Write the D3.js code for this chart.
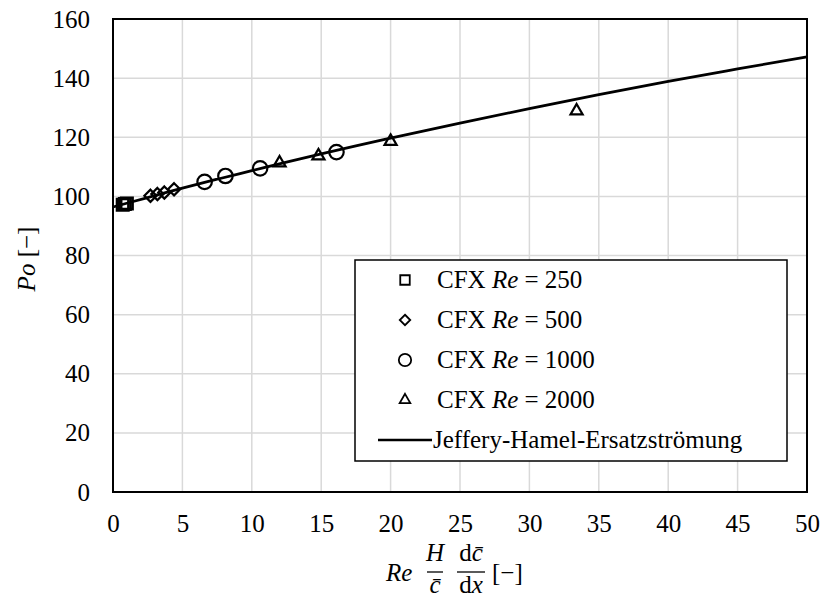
<!DOCTYPE html>
<html>
<head>
<meta charset="utf-8">
<script src="https://cdn.jsdelivr.net/npm/d3@7"></script>
<style>
  html, body { margin: 0; padding: 0; background: #fff; }
  svg { display: block; }
  text { font-family: 'Liberation Serif', 'Times New Roman', Times, 'DejaVu Serif', serif; fill: #000; }
</style>
</head>
<body>
<svg id="chart" width="823" height="601"></svg>
<script>
// CFX results (x = Re·H/c̄·dc̄/dx, y = Po)
const re250X = [0.7, 0.85, 1.0];
const re250Y = [97.2, 97.4, 97.6];
const re500X = [2.7, 3.2, 3.7, 4.4];
const re500Y = [100.2, 100.8, 101.3, 102.4];
const re1000X = [6.6, 8.1, 10.6, 16.1];
const re1000Y = [104.9, 106.9, 109.5, 115.0];
const re2000X = [12.0, 14.8, 20.0, 33.4];
const re2000Y = [111.3, 113.7, 118.6, 128.9];

// Jeffery-Hamel substitute flow
const jhX = [0, 2.5, 5, 7.5, 10, 12.5, 15, 17.5, 20, 25, 30, 35, 40, 45, 50];
const jhY = [96.4, 99.6, 102.8, 105.8, 108.7, 111.6, 114.4, 117.1, 119.7, 124.8, 129.7, 134.4, 138.9, 143.1, 147.2];

const xTicks = [0, 5, 10, 15, 20, 25, 30, 35, 40, 45, 50];
const yTicks = [0, 20, 40, 60, 80, 100, 120, 140, 160];

const legendLabels = ["250", "500", "1000", "2000"];
const lineLabel = "Jeffery-Hamel-Ersatzströmung";

const FONT = "'Liberation Serif', 'Times New Roman', Times, 'DejaVu Serif', serif";
const svg = d3.select("#chart").attr("font-family", FONT);
const L = 113, R = 807, T = 19, B = 492;
const x = d3.scaleLinear().domain([0, 50]).range([L, R]);
const y = d3.scaleLinear().domain([0, 160]).range([B, T]);
const FS = 25;

// grid
const grid = svg.append("g").attr("stroke", "#d9d9d9").attr("stroke-width", 1.5);
grid.selectAll("line.v").data(xTicks.slice(1, -1)).join("line")
  .attr("x1", d => x(d)).attr("x2", d => x(d)).attr("y1", T).attr("y2", B);
grid.selectAll("line.h").data(yTicks.slice(1, -1)).join("line")
  .attr("y1", d => y(d)).attr("y2", d => y(d)).attr("x1", L).attr("x2", R);

// axes
const xAxis = svg.append("g").attr("transform", `translate(0,${B})`)
  .call(d3.axisBottom(x).tickValues(xTicks).tickSize(0).tickPadding(22).tickFormat(d3.format("d")));
const yAxis = svg.append("g").attr("transform", `translate(${L},0)`)
  .call(d3.axisLeft(y).tickValues(yTicks).tickSize(0).tickPadding(23).tickFormat(d3.format("d")));
[xAxis, yAxis].forEach(g => {
  g.attr("font-family", FONT).attr("font-size", FS);
  g.select(".domain").remove();
  g.selectAll("text").attr("font-size", FS).attr("font-family", FONT);
});

// frame
svg.append("rect").attr("x", L).attr("y", T).attr("width", R - L).attr("height", B - T)
  .attr("fill", "none").attr("stroke", "#000").attr("stroke-width", 2);

// Jeffery-Hamel curve
const jh = jhX.map((v, i) => [v, jhY[i]]);
svg.append("path").datum(jh)
  .attr("fill", "none").attr("stroke", "#000").attr("stroke-width", 2.75)
  .attr("d", d3.line().x(d => x(d[0])).y(d => y(d[1])).curve(d3.curveMonotoneX));

// markers
const series = [
  { xs: re250X, ys: re250Y, type: d3.symbolSquare, size: 130, sw: 2.6, lsize: 90 },
  { xs: re500X, ys: re500Y, type: d3.symbolDiamond2, size: 95, sw: 2.2, lsize: 70 },
  { xs: re1000X, ys: re1000Y, type: d3.symbolCircle, size: 165, sw: 2.2, lsize: 120 },
  { xs: re2000X, ys: re2000Y, type: d3.symbolTriangle2, size: 105, sw: 2.2, lsize: 80 }
];
series.forEach(s => {
  const pts = s.xs.map((v, i) => [v, s.ys[i]]);
  svg.append("g").selectAll("path").data(pts).join("path")
    .attr("transform", d => `translate(${x(d[0])},${y(d[1])})`)
    .attr("d", d3.symbol().type(s.type).size(s.size)())
    .attr("fill", "none").attr("stroke", "#000").attr("stroke-width", s.sw);
});

// legend
const lg = svg.append("g");
lg.append("rect").attr("x", 355).attr("y", 260).attr("width", 432).attr("height", 201)
  .attr("fill", "#fff").attr("stroke", "#000").attr("stroke-width", 1.5);
const rowY = i => 280 + i * 40;
series.forEach((s, i) => {
  lg.append("path")
    .attr("transform", `translate(405,${rowY(i)})`)
    .attr("d", d3.symbol().type(s.type).size(s.lsize)())
    .attr("fill", "none").attr("stroke", "#000").attr("stroke-width", 1.8);
  const t = lg.append("text").attr("x", 437).attr("y", rowY(i)).attr("dy", "0.33em")
    .attr("font-size", FS);
  t.append("tspan").text("CFX ");
  t.append("tspan").attr("font-style", "italic").text("Re");
  t.append("tspan").text(" = " + legendLabels[i]);
});
lg.append("line").attr("x1", 378).attr("x2", 432).attr("y1", rowY(4)).attr("y2", rowY(4))
  .attr("stroke", "#000").attr("stroke-width", 2.5);
lg.append("text").attr("x", 433).attr("y", rowY(4)).attr("dy", "0.33em")
  .attr("font-size", FS).text(lineLabel);

// y-axis title
const yt = svg.append("text").attr("transform", "translate(35,259) rotate(-90)")
  .attr("text-anchor", "middle").attr("font-size", FS);
yt.append("tspan").attr("font-style", "italic").text("Po");
yt.append("tspan").text(" [−]");

// x-axis title: Re · (H / c̄) · (dc̄ / dx) [−]
const xt = svg.append("g").attr("font-size", FS);
xt.append("text").attr("x", 386).attr("y", 581).attr("font-style", "italic").text("Re");
// fraction H / c̄
xt.append("text").attr("x", 435).attr("y", 561).attr("text-anchor", "middle").attr("font-style", "italic").text("H");
xt.append("line").attr("x1", 427).attr("x2", 443).attr("y1", 572).attr("y2", 572).attr("stroke", "#000").attr("stroke-width", 1.3);
xt.append("text").attr("x", 435).attr("y", 593).attr("text-anchor", "middle").attr("font-style", "italic").text("c̄");
// fraction dc̄ / dx
const num = xt.append("text").attr("x", 471).attr("y", 561).attr("text-anchor", "middle");
num.append("tspan").text("d");
num.append("tspan").attr("font-style", "italic").text("c̄");
xt.append("line").attr("x1", 457).attr("x2", 485).attr("y1", 572).attr("y2", 572).attr("stroke", "#000").attr("stroke-width", 1.3);
const den = xt.append("text").attr("x", 471).attr("y", 593).attr("text-anchor", "middle");
den.append("tspan").text("d");
den.append("tspan").attr("font-style", "italic").text("x");
xt.append("text").attr("x", 492).attr("y", 581).text("[−]");
</script>
</body>
</html>
